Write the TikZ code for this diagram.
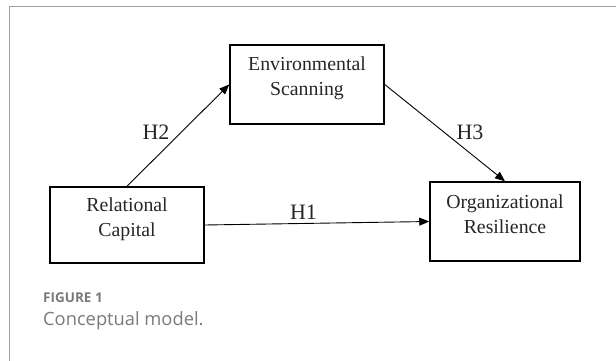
\documentclass[tikz,border=0pt]{standalone}
\usepackage{fontspec}
\setmainfont{Liberation Serif}
\newfontfamily\capfont{Open Sans}
\usetikzlibrary{arrows.meta}
\definecolor{framegray}{HTML}{A0A0A0}
\definecolor{capgray}{HTML}{7A7A7A}
\tikzset{
  boxnode/.style={draw=black, line width=1.5pt, minimum width=#1, inner sep=0pt},
  boxtext/.style={align=center, font=\fontsize{19.8}{25}\selectfont, inner sep=0pt, text=black!85},
  hlabel/.style={font=\fontsize{22}{24}\selectfont, inner sep=0pt, text=black!85},
  link/.style={line width=0.9pt, -{Triangle[length=10pt,width=8pt]}},
}
\begin{document}
\begin{tikzpicture}[x=1pt,y=-1pt]
\useasboundingbox (0,0) rectangle (616,361);
% frame
\draw[framegray, line width=1pt] (9,361) -- (9,7) -- (616,7);
% boxes
\node[boxnode=154pt, minimum height=79pt] (env) at (307,84.5) {};
\node[boxtext] (envt) at (307,78) {Environmental\\Scanning};
\node[boxnode=154pt, minimum height=76pt] (rc) at (127,225) {};
\node[boxtext] (rct) at (127,219.5) {Relational\\Capital};
\node[boxnode=150pt, minimum height=79pt] (or) at (505,221.5) {};
\node[boxtext] (ort) at (505,214.5) {Organizational\\Resilience};
% connectors
\draw[link] (rc.east) -- (or.west);
\draw[link] (rc.north) -- (env.west);
\draw[link] (env.east) -- (or.north);
% labels
\node[hlabel] (h1) at (303.5,212) {H1};
\node[hlabel] (h2) at (156,132) {H2};
\node[hlabel] (h3) at (470,132) {H3};
% caption
\node[anchor=west, inner sep=0pt, text=capgray, font=\capfont\bfseries\fontsize{13.5}{15}\selectfont] (fig) at (43,298) {FIGURE 1};
\node[anchor=west, inner sep=0pt, text=capgray, font=\capfont\fontsize{18.3}{20}\selectfont] (capt) at (43,321) {Conceptual model.};
\end{tikzpicture}
\end{document}
